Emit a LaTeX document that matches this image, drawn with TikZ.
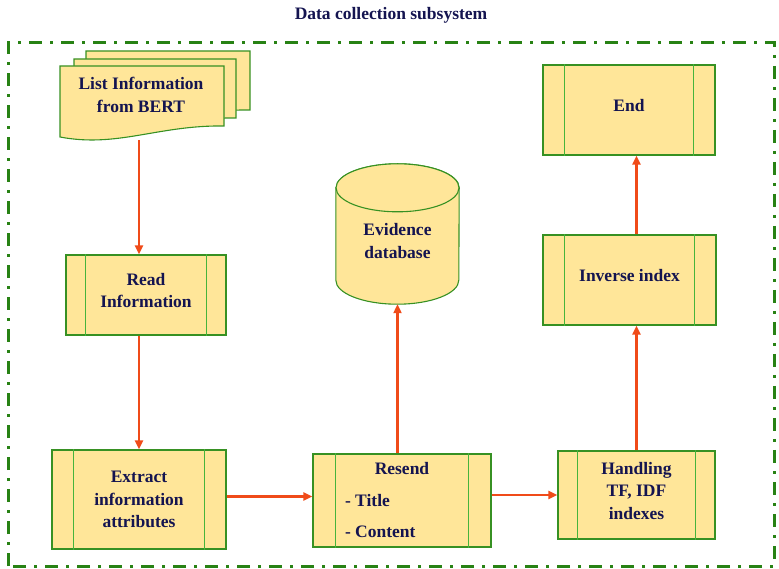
\documentclass[tikz,border=0pt]{standalone}
\usepackage{fontspec}
\setmainfont{Liberation Serif}
\usetikzlibrary{calc}
\usetikzlibrary{arrows.meta}
\definecolor{boxfill}{RGB}{255,230,153}
\definecolor{boxgreen}{RGB}{55,145,35}
\definecolor{innergreen}{RGB}{70,180,60}
\definecolor{framegreen}{RGB}{40,130,20}
\definecolor{flowred}{RGB}{240,75,25}
\definecolor{navytext}{RGB}{20,20,80}
\newcommand{\boxfont}{\fontsize{17.5}{22.5}\selectfont\bfseries}
\tikzstyle{procbox}=[draw=boxgreen, fill=boxfill, line width=1.3pt, text=navytext, font=\boxfont, align=center, inner sep=0pt]
\tikzstyle{innerline}=[draw=innergreen, line width=1.5pt]
\tikzstyle{flow}=[draw=flowred, line width=2.1pt, -{Triangle[length=9pt,width=8pt]}]
\tikzstyle{frame}=[draw=framegreen, line width=3pt, dash pattern=on 13pt off 8pt on 3pt off 8pt]
\tikzstyle{sheet}=[draw=boxgreen, fill=boxfill, line width=1.1pt]
\newcommand{\procnode}[5][22]{% [inner offset] {name} {size keys} {position} {text}
  \node[procbox,#3] (#2) at (#4) {#5};
  \draw[innerline] ([xshift=#1]#2.north west) -- ([xshift=#1]#2.south west);
  \draw[innerline] ([xshift=-#1]#2.north east) -- ([xshift=-#1]#2.south east);
}
\newcommand{\docsheet}[4]{% {left x} {top y} {width} {bottom y at right}
  \draw[sheet] (#1,#2) -- ++(#3,0) -- (#1+#3,#4) .. controls (#1+0.6*#3,#4+1) and (#1+0.35*#3,#4-22) .. (#1,#4-11) -- cycle;
}
\begin{document}
\begin{tikzpicture}[x=1pt,y=1pt]
  \useasboundingbox (0,0) rectangle (779,568);
  \node[font=\boxfont, text=navytext] (title) at (391,553) {Data collection subsystem};
  \draw[frame] (8,2) rectangle (774,525);
  % stacked documents
  \docsheet{86}{517}{164}{458}
  \docsheet{74}{509}{162}{450}
  \docsheet{60}{502}{164}{442}
  \node[procbox, draw=none, fill=none] (list) at (141,473) {List Information\\from BERT};
  \coordinate (listbot) at (139,428);
  % process boxes
  \procnode[20]{read}{minimum width=160, minimum height=80, text depth=9pt}{146,273}{Read\\Information}
  \procnode{extract}{minimum width=174, minimum height=99}{139,68.5}{Extract\\information\\attributes}
  \procnode[23]{resend}{minimum width=178, minimum height=93}{402,67.5}{Resend\\[9pt]\makebox[114pt][l]{- Title}\\[9pt]\makebox[114pt][l]{- Content}}
  \procnode[20]{handling}{minimum width=157, minimum height=88, text depth=9pt}{636.5,73}{Handling\\TF, IDF\\indexes}
  \procnode{inverse}{minimum width=173, minimum height=90, text depth=9pt}{629.5,288}{Inverse index}
  \procnode{endbox}{minimum width=172, minimum height=90, text depth=9pt}{629,458}{End}
  % database cylinder
  \node[inner sep=0pt, minimum width=123, minimum height=140] (db) at (397.5,334) {};
  \draw[sheet] ($(db.north west)+(0,-24)$) -- ($(db.south west)+(0,24)$) arc (180:360:61.5 and 24) -- ($(db.north east)+(0,-24)$) arc (0:180:61.5 and 24) -- cycle;
  \draw[sheet] ($(db.north)+(0,-24)$) ellipse [x radius=61.5, y radius=24];
  \node[procbox, draw=none, fill=none] (dbtext) at (397.5,327) {Evidence\\database};
  % flow arrows
  \draw[flow] (listbot) -- (listbot |- read.north);
  \draw[flow] (extract.north |- read.south) -- (extract.north);
  \draw[flow] ([yshift=3]extract.east) -- ([yshift=3]extract.east -| resend.west);
  \draw[flow] (handling.west -| resend.east) -- (handling.west);
  \draw[flow] (db.south |- resend.north) -- (db.south);
  \draw[flow] (handling.north) -- (handling.north |- inverse.south);
  \draw[flow] (handling.north |- inverse.north) -- (handling.north |- endbox.south);
\end{tikzpicture}
\end{document}
